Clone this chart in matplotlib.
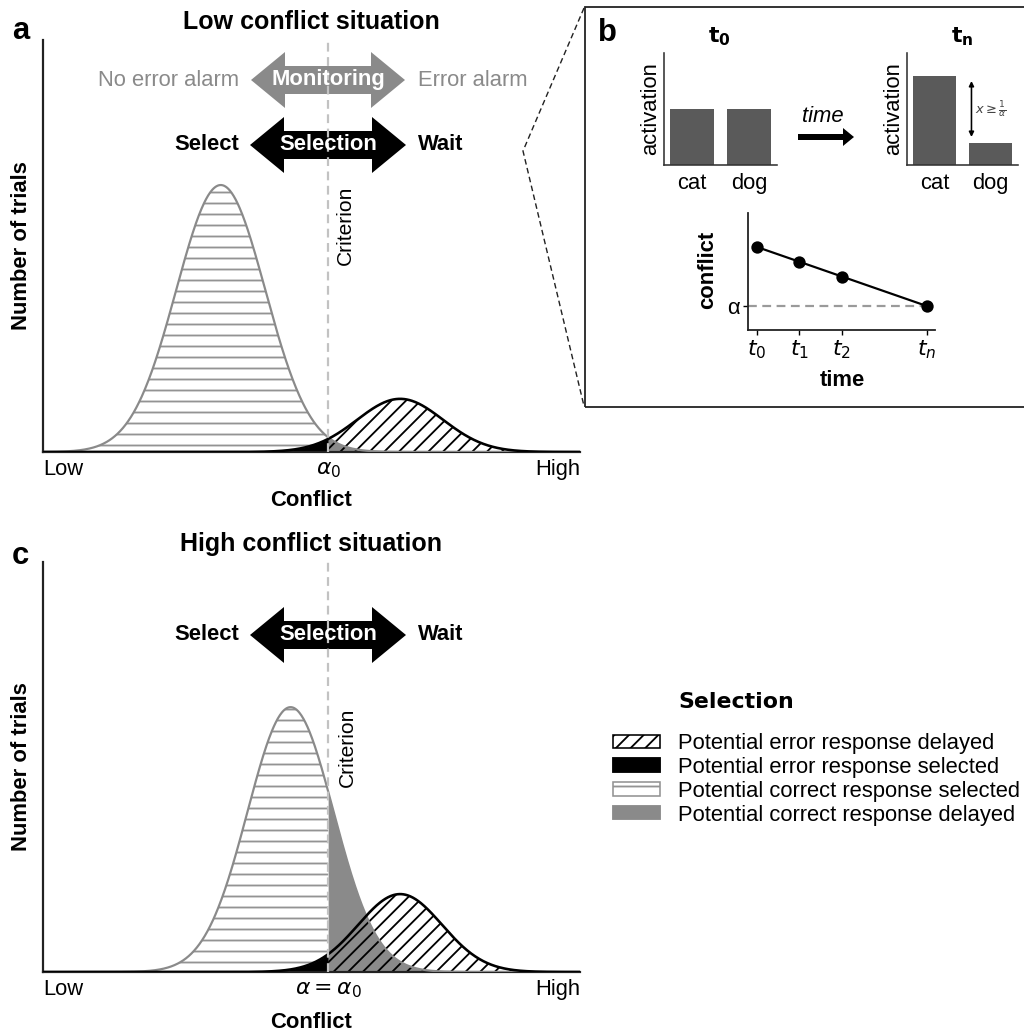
import numpy as np
import matplotlib
matplotlib.use("Agg")
import matplotlib.pyplot as plt
from matplotlib.patches import Polygon, Rectangle, Patch
from matplotlib.lines import Line2D

DPI = 132
W, H = 1024, 1034

plt.rcParams["font.family"] = ["Liberation Sans", "DejaVu Sans"]
plt.rcParams["hatch.linewidth"] = 1.0

# --- data -------------------------------------------------------------
conflict_range = (0.0, 10.0)
criterion = 5.31
conflict_tick_labels_low = ["Low", r"$\alpha_0$", "High"]
conflict_tick_labels_high = ["Low", r"$\alpha = \alpha_0$", "High"]

# (mean, sd, peak height) of the correct / error response distributions
low_correct = (3.31, 0.83, 0.648)
low_error = (6.65, 0.80, 0.129)
high_correct = (4.61, 0.80, 0.646)
high_error = (6.65, 0.78, 0.19)

words = ["cat", "dog"]
activation_t0 = [1.0, 1.0]
activation_tn = [1.59, 0.39]

time_points = [0, 1, 2, 4]
time_labels = [r"$t_0$", r"$t_1$", r"$t_2$", r"$t_n$"]
conflict_over_time = [3.0, 2.5, 2.0, 1.0]
alpha_level = 1.0

legend_labels = [
    "Potential error response delayed",
    "Potential error response selected",
    "Potential correct response selected",
    "Potential correct response delayed",
]

GREY = "#8a8a8a"
BAR = "#5a5a5a"


def fs(px):
    return px * 72 / DPI


def fx(x):
    return x / W


def fy(y):
    return 1 - y / H


def rect(left, top, right, bottom):
    return [left / W, 1 - bottom / H, (right - left) / W, (bottom - top) / H]


def gauss(x, params):
    mu, sd, peak = params
    return peak * np.exp(-0.5 * ((x - mu) / sd) ** 2)


fig = plt.figure(figsize=(W / DPI, H / DPI), dpi=DPI)


def arrow(ax, x0, x1, yc, body, head, head_len, color, double=True):
    hb, hh = body / 2, head / 2
    pts = [(x1, yc), (x1 - head_len, yc - hh), (x1 - head_len, yc - hb)]
    if double:
        pts += [(x0 + head_len, yc - hb), (x0 + head_len, yc - hh), (x0, yc),
                (x0 + head_len, yc + hh), (x0 + head_len, yc + hb)]
    else:
        pts += [(x0, yc - hb), (x0, yc + hb)]
    pts += [(x1 - head_len, yc + hb), (x1 - head_len, yc + hh)]
    poly = Polygon([(fx(a), fy(b)) for a, b in pts], closed=True,
                   transform=fig.transFigure, facecolor=color, edgecolor="none",
                   clip_on=False, zorder=3)
    ax.add_patch(poly)


def ftext(ax, x, y, s, **kw):
    kw.setdefault("ha", "center")
    kw.setdefault("va", "center")
    kw.setdefault("fontsize", fs(22))
    ax.text(fx(x), fy(y), s, transform=fig.transFigure, clip_on=False,
            zorder=5, **kw)


def conflict_panel(ax, correct, error, tick_labels):
    x = np.sort(np.append(np.linspace(*conflict_range, 801), criterion))
    yc = gauss(x, correct)
    ye = gauss(x, error)
    left = x <= criterion
    right = x >= criterion
    ax.fill_between(x[left], 0, yc[left], facecolor="white", edgecolor="#939393",
                    hatch="--", linewidth=0, zorder=1)
    ax.fill_between(x[right], 0, yc[right], facecolor=GREY, edgecolor=GREY,
                    linewidth=0, zorder=1)
    ax.fill_between(x[left], 0, ye[left], facecolor="black", edgecolor="black",
                    linewidth=0, zorder=2)
    ax.fill_between(x[right], 0, ye[right], facecolor="none", edgecolor="black",
                    hatch="///", linewidth=0, zorder=2)
    ax.plot(x, yc, color=GREY, lw=fs(2.2), zorder=3)
    ax.plot(x, ye, color="black", lw=fs(2.6), zorder=3)
    ax.axvline(criterion, color="#c2c2c2", lw=fs(2.2), dashes=(4, 2.5), zorder=4)
    ax.set_xlim(*conflict_range)
    ax.set_ylim(0, 1)
    ax.set_yticks([])
    ax.set_xticks([conflict_range[0], criterion, conflict_range[1]], tick_labels)
    ax.tick_params(axis="x", length=0, pad=fs(7), labelsize=fs(22))
    tl = ax.get_xticklabels()
    tl[0].set_ha("left")
    tl[-1].set_ha("right")
    for s in ["top", "right"]:
        ax.spines[s].set_visible(False)
    for s in ["left", "bottom"]:
        ax.spines[s].set_linewidth(fs(2.2))
        ax.spines[s].set_color("#222222")


# --- panel a ------------------------------------------------------------
ax_a = fig.add_axes(rect(43, 40, 580, 452))
conflict_panel(ax_a, low_correct, low_error, conflict_tick_labels_low)
ftext(ax_a, 311, 22, "Low conflict situation", fontsize=fs(25), fontweight="bold")
ftext(ax_a, 21, 31, "a", fontsize=fs(31), fontweight="bold")
ftext(ax_a, 22, 246, "Number of trials", rotation=90, fontweight="bold")
ftext(ax_a, 311, 501, "Conflict", fontweight="bold")
arrow(ax_a, 251, 405, 80, 28, 56, 34, GREY)
ftext(ax_a, 328, 80, "Monitoring", color="white", fontweight="bold")
ftext(ax_a, 239, 80, "No error alarm", color=GREY, ha="right")
ftext(ax_a, 418, 80, "Error alarm", color=GREY, ha="left")
arrow(ax_a, 250, 406, 145, 28, 56, 34, "black")
ftext(ax_a, 328, 145, "Selection", color="white", fontweight="bold")
ftext(ax_a, 239, 145, "Select", fontweight="bold", ha="right")
ftext(ax_a, 418, 145, "Wait", fontweight="bold", ha="left")
ftext(ax_a, 345, 225, "Criterion", rotation=90, fontsize=fs(21))

# --- panel c ------------------------------------------------------------
ax_c = fig.add_axes(rect(43, 562, 580, 972))
conflict_panel(ax_c, high_correct, high_error, conflict_tick_labels_high)
ftext(ax_c, 311, 544, "High conflict situation", fontsize=fs(25), fontweight="bold")
ftext(ax_c, 20, 556, "c", fontsize=fs(31), fontweight="bold")
ftext(ax_c, 22, 767, "Number of trials", rotation=90, fontweight="bold")
ftext(ax_c, 311, 1023, "Conflict", fontweight="bold")
arrow(ax_c, 250, 406, 635, 28, 56, 34, "black")
ftext(ax_c, 328, 635, "Selection", color="white", fontweight="bold")
ftext(ax_c, 239, 635, "Select", fontweight="bold", ha="right")
ftext(ax_c, 418, 635, "Wait", fontweight="bold", ha="left")
ftext(ax_c, 347, 747, "Criterion", rotation=90, fontsize=fs(21))

# --- panel b ------------------------------------------------------------
fig.add_artist(Rectangle((fx(585), fy(407)), fx(1040) - fx(585), (407 - 7) / H,
                         transform=fig.transFigure, fill=False, edgecolor="#222222",
                         lw=fs(1.8)))
fig.add_artist(Line2D([fx(584), fx(523), fx(584)], [fy(8), fy(151), fy(406)],
                      transform=fig.transFigure, color="#222222", lw=fs(1.4),
                      dashes=(4, 2.5)))
fig.text(fx(607), fy(33), "b", fontsize=fs(31), fontweight="bold", ha="center", va="center")


def bar_panel(box, values, title, title_x):
    ax = fig.add_axes(rect(*box))
    ax.bar([0, 1], values, width=0.78, color=BAR)
    ax.set_xlim(-0.49, 1.49)
    ax.set_ylim(0, 2)
    ax.set_yticks([])
    ax.set_xticks([0, 1], words)
    ax.tick_params(axis="x", length=0, pad=fs(8), labelsize=fs(22))
    ax.set_ylabel("activation", fontsize=fs(22), labelpad=fs(3))
    for s in ["top", "right"]:
        ax.spines[s].set_visible(False)
    for s in ["left", "bottom"]:
        ax.spines[s].set_linewidth(fs(1.6))
        ax.spines[s].set_color("#333333")
    fig.text(fx(title_x), fy(37), title, fontsize=fs(22), ha="center", va="center")
    return ax


bar_panel((664, 53, 777, 165), activation_t0, r"$\mathbf{t_0}$", 719)
ax_tn = bar_panel((907, 53, 1018, 165), activation_tn, r"$\mathbf{t_n}$", 962)
ax_tn.annotate("", xy=(0.66, 1.5), xytext=(0.66, 0.5),
               arrowprops=dict(arrowstyle="<|-|>", color="black", lw=fs(1.6),
                               mutation_scale=fs(10), shrinkA=0, shrinkB=0))
ax_tn.text(1.0, 0.98, r"$x \geq \frac{1}{\alpha}$", fontsize=fs(13), color="#444444",
           ha="center", va="center")

fig.text(fx(823), fy(117), "time", fontsize=fs(22), style="italic", ha="center", va="center")
ax_tn.add_patch(Polygon([(fx(854), fy(137)), (fx(843), fy(128)), (fx(843), fy(134)),
                         (fx(798), fy(134)), (fx(798), fy(140)), (fx(843), fy(140)),
                         (fx(843), fy(146))], closed=True, transform=fig.transFigure,
                        facecolor="black", edgecolor="none", clip_on=False))

ax_t = fig.add_axes(rect(748, 213, 935, 330))
ax_t.axhline(alpha_level, xmax=(time_points[-1] + 0.21) / 4.4, color="#9a9a9a",
             lw=fs(2.2), dashes=(4, 2.5), zorder=1)
ax_t.plot(time_points, conflict_over_time, color="black", lw=fs(2.2), marker="o",
          markersize=fs(10.5), zorder=2, clip_on=False)
ax_t.set_xlim(-0.21, 4.19)
ax_t.set_ylim(0.19, 4.15)
ax_t.set_xticks(time_points, time_labels)
ax_t.set_yticks([alpha_level], ["α"])
ax_t.tick_params(length=fs(5), width=fs(1.4), pad=fs(3), labelsize=fs(22))
for s in ["top", "right"]:
    ax_t.spines[s].set_visible(False)
for s in ["left", "bottom"]:
    ax_t.spines[s].set_linewidth(fs(1.8))
    ax_t.spines[s].set_color("#222222")
fig.text(fx(842), fy(380), "time", fontsize=fs(22), fontweight="bold", ha="center", va="center")
fig.text(fx(708), fy(270), "conflict", fontsize=fs(22), fontweight="bold", rotation=90,
         ha="center", va="center")

# --- legend -------------------------------------------------------------
handles = [
    Patch(facecolor="white", edgecolor="black", hatch="///", lw=fs(1.6)),
    Patch(facecolor="black", edgecolor="black"),
    Patch(facecolor="white", edgecolor="#939393", hatch="--", lw=fs(1.6)),
    Patch(facecolor=GREY, edgecolor=GREY),
]
fig.text(fx(678), fy(702), "Selection", fontsize=fs(22), fontweight="bold",
         family="DejaVu Sans", ha="left", va="center")
fig.legend(handles, legend_labels, loc="upper left",
           bbox_to_anchor=(fx(613), fy(733)), frameon=False, borderpad=0,
           borderaxespad=0, handlelength=47 / 22, handleheight=12 / 22,
           handletextpad=18 / 22, labelspacing=0.13, fontsize=fs(22))

fig.savefig("out.png", dpi=DPI)
